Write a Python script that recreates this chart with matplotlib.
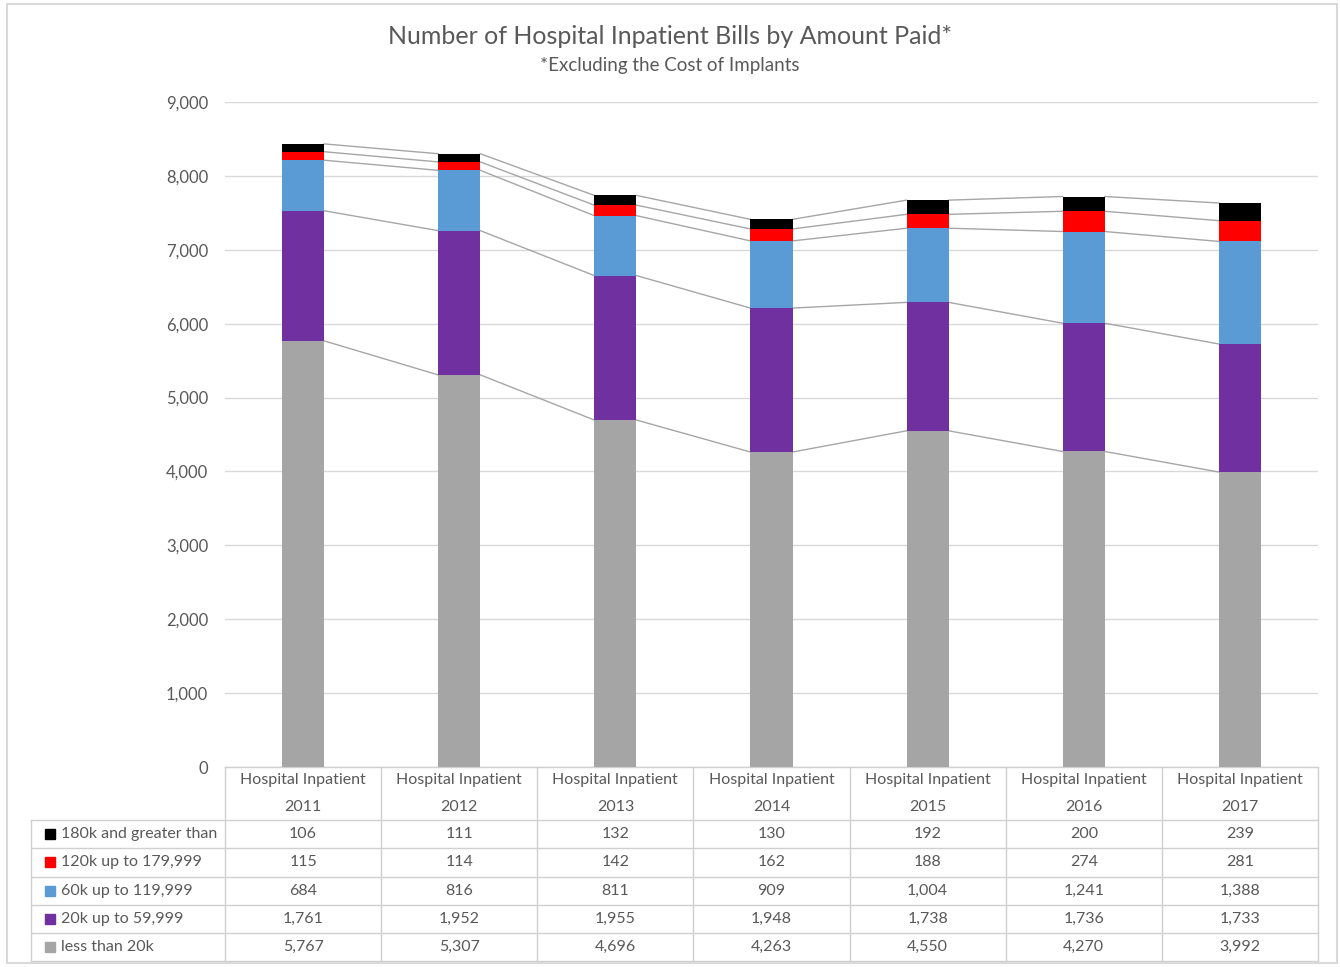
import matplotlib

matplotlib.use("Agg")
import matplotlib.pyplot as plt  # noqa: E402
import numpy as np  # noqa: E402
from matplotlib.patches import Rectangle  # noqa: E402
from matplotlib.transforms import blended_transform_factory  # noqa: E402

plt.rcParams["font.family"] = ["Lato", "DejaVu Sans"]

YEARS = ["2011", "2012", "2013", "2014", "2015", "2016", "2017"]
CATEGORY = "Hospital Inpatient"

# bottom to top of the stack
SERIES = [
    "less than 20k",
    "20k up to 59,999",
    "60k up to 119,999",
    "120k up to 179,999",
    "180k and greater than",
]
LESS_20K = [5767, 5307, 4696, 4263, 4550, 4270, 3992]
K20_60 = [1761, 1952, 1955, 1948, 1738, 1736, 1733]
K60_120 = [684, 816, 811, 909, 1004, 1241, 1388]
K120_180 = [115, 114, 142, 162, 188, 274, 281]
K180_UP = [106, 111, 132, 130, 192, 200, 239]
VALUES = [LESS_20K, K20_60, K60_120, K120_180, K180_UP]
COLORS = ["#a5a5a5", "#7030a0", "#5b9bd5", "#ff0000", "#000000"]

TXT = "#595959"
GRID = "#d9d9d9"
W, H = 1340, 967


def fy(py):
    """pixel row (from top) -> figure fraction"""
    return 1 - py / H


fig = plt.figure(figsize=(W / 100, H / 100), dpi=100)
fig.patches.append(Rectangle((7 / W, fy(963)), 1330 / W, 959 / H,
                             transform=fig.transFigure, fill=False,
                             ec="#d9d9d9", lw=1.5))

ax = fig.add_axes([225 / W, fy(767), 1093 / W, 665 / H])
x = np.arange(len(YEARS))
bw = 0.27
bottom = np.zeros(len(YEARS))
tops = []
for vals, col in zip(VALUES, COLORS):
    v = np.array(vals, dtype=float)
    ax.bar(x, v, bw, bottom=bottom, color=col, zorder=3)
    bottom = bottom + v
    tops.append(bottom.copy())

# series lines between neighbouring bars
for cum in tops:
    for i in range(len(x) - 1):
        ax.plot([x[i] + bw / 2, x[i + 1] - bw / 2], [cum[i], cum[i + 1]],
                color="#a6a6a6", lw=1, zorder=2)

ax.set_xlim(-0.5, len(YEARS) - 0.5)
ax.set_ylim(0, 9000)
ax.set_yticks(np.arange(0, 9001, 1000))
ax.set_yticklabels([f"{t:,}" for t in range(0, 9001, 1000)])
ax.yaxis.grid(True, color=GRID, lw=1, zorder=0)
ax.tick_params(axis="y", length=0, pad=12, labelcolor=TXT, labelsize=12)
ax.set_xticks([])
for s in ax.spines.values():
    s.set_visible(False)

fig.text(0.5, fy(37), "Number of Hospital Inpatient Bills by Amount Paid*",
         ha="center", va="center", fontsize=18, color=TXT)
fig.text(0.5, fy(66), "*Excluding the Cost of Implants",
         ha="center", va="center", fontsize=13.5, color=TXT)

# data table under the axes
tr = blended_transform_factory(ax.transData, fig.transFigure)
col_px = 1093 / 7
left_edge = -0.5 - 194 / col_px
line_kw = dict(color="#d0d0d0", lw=1, transform=tr, clip_on=False)
row_lines = [767, 820, 848.3, 876.6, 904.9, 933.2, 961]
for k, py in enumerate(row_lines):
    x0 = -0.5 if k == 0 else left_edge
    ax.plot([x0, len(YEARS) - 0.5], [fy(py), fy(py)], **line_kw)
for xb in np.arange(-0.5, len(YEARS), 1.0):
    ax.plot([xb, xb], [fy(767), fy(961)], **line_kw)
ax.plot([left_edge, left_edge], [fy(820), fy(961)], **line_kw)

for i, yr in enumerate(YEARS):
    ax.text(x[i], fy(780), CATEGORY, ha="center", va="center",
            fontsize=11.5, color=TXT, transform=tr)
    ax.text(x[i], fy(807), yr, ha="center", va="center",
            fontsize=11.5, color=TXT, transform=tr)

sq = 10 / col_px
for r, k in enumerate(range(len(SERIES) - 1, -1, -1)):
    yc = (row_lines[r + 1] + row_lines[r + 2]) / 2
    ax.add_patch(Rectangle((left_edge + 14 / col_px, fy(yc + 5)), sq, 10 / H,
                           color=COLORS[k], transform=tr, clip_on=False))
    ax.text(left_edge + 30 / col_px, fy(yc), SERIES[k], ha="left",
            va="center", fontsize=11.5, color=TXT, transform=tr)
    for i in range(len(YEARS)):
        ax.text(x[i], fy(yc), f"{VALUES[k][i]:,}", ha="center", va="center",
                fontsize=11.5, color=TXT, transform=tr)

fig.savefig("out.png", dpi=100)
